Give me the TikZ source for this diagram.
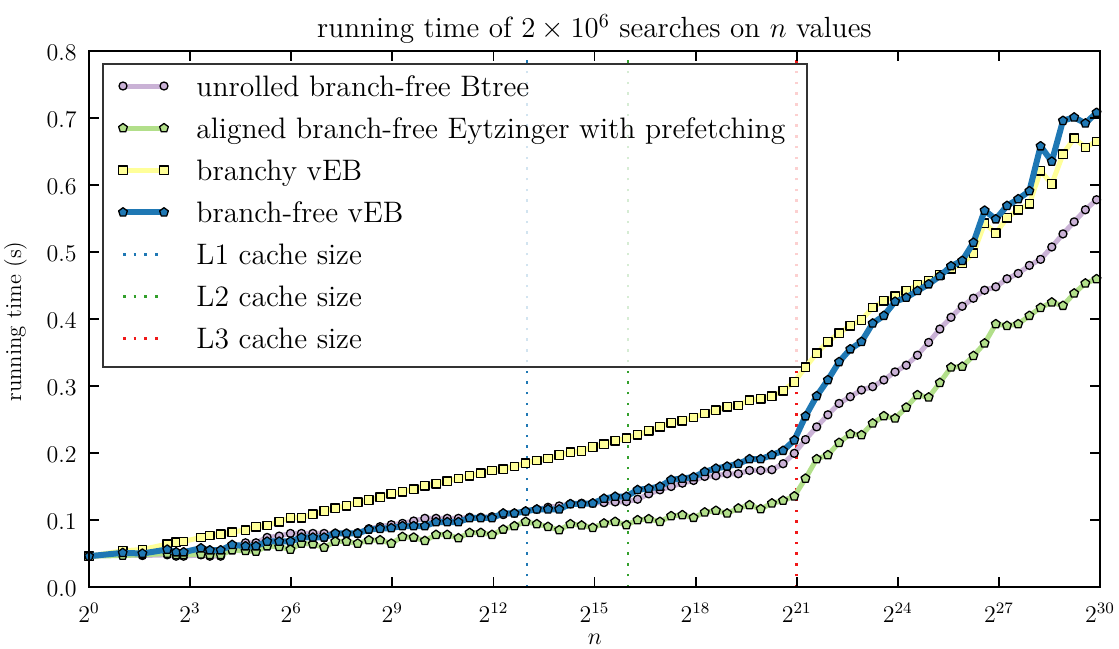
\documentclass[tikz,border=0pt]{standalone}
\usetikzlibrary{plotmarks}
\definecolor{cpur}{HTML}{CAB2D6}
\definecolor{cgrn}{HTML}{B2DF8A}
\definecolor{cyel}{HTML}{FFFF99}
\definecolor{cblu}{HTML}{1F78B4}
\definecolor{cLone}{HTML}{1F78B4}
\definecolor{cLtwo}{HTML}{33A02C}
\definecolor{cLthree}{HTML}{F01818}
\tikzset{
  frame/.style={line width=1.35pt, black},
  tickmark/.style={line width=0.9pt, black},
  purline/.style={cpur, line width=2.5pt, line join=round, mark=*, mark size=2pt, mark options={draw=black, line width=0.65pt, solid, fill=cpur}},
  grnline/.style={cgrn, line width=2.5pt, line join=round, mark=pentagon*, mark size=2.3pt, mark options={draw=black, line width=0.65pt, solid, fill=cgrn}},
  yelline/.style={cyel, line width=2.5pt, line join=round, mark=square*, mark size=2.1pt, mark options={draw=black, line width=0.65pt, solid, fill=cyel}},
  bluline/.style={cblu, line width=3pt, line join=round, mark=pentagon*, mark size=2.3pt, mark options={draw=black, line width=0.65pt, solid, fill=cblu}},
  cacheline/.style={line width=1.25pt, dash pattern=on 1.25pt off 4.1pt},
  ticklab/.style={font=\fontsize{12}{14}\selectfont, inner sep=0pt},
  legtext/.style={font=\fontsize{14.8}{17}\selectfont, inner sep=0pt, anchor=base west},
}
\begin{document}
\begin{tikzpicture}[x=0.5pt,y=-0.5pt]
\useasboundingbox (0,0) rectangle (1119,648);
% cache lines
\draw[cacheline, cLone] (527.1,587) -- (527.1,51);
\draw[cacheline, cLtwo] (628.2,587) -- (628.2,51);
\draw[cacheline, cLthree] (796.7,587) -- (796.7,51);
% legend box
\draw[black!80, line width=1pt, fill=white, fill opacity=0.8] (103,64) rectangle (807,367);
\draw[purline] plot coordinates {(123,86) (164,86)};
\node[legtext] (l1) at (196,96) {unrolled branch-free Btree};
\draw[grnline] plot coordinates {(123,128.1) (164,128.1)};
\node[legtext] (l2) at (196,138.1) {aligned branch-free Eytzinger with prefetching};
\draw[yelline] plot coordinates {(123,170.2) (164,170.2)};
\node[legtext] (l3) at (196,180.2) {branchy vEB};
\draw[bluline] plot coordinates {(123,212.3) (164,212.3)};
\node[legtext] (l4) at (196,222.3) {branch-free vEB};
\draw[cacheline, cLone] (123,254.4) -- (164,254.4);
\node[legtext] (l5) at (196,264.4) {L1 cache size};
\draw[cacheline, cLtwo] (123,296.5) -- (164,296.5);
\node[legtext] (l6) at (196,306.5) {L2 cache size};
\draw[cacheline, cLthree] (123,338.6) -- (164,338.6);
\node[legtext] (l7) at (196,348.6) {L3 cache size};
% data
\begin{scope}[shift={(89,587)}, x=5.5975pt, y=335pt]
\draw[purline] plot coordinates {(0,.046) (3.0103,.048) (4.7712,.047) (6.9897,.048) (7.7815,.046) (8.451,.046) (10,.048) (10.7918,.046) (11.7609,.046) (12.7875,.060) (13.9794,.066) (14.9136,.066) (15.9106,.074) (16.9897,.076) (17.9934,.080) (18.9763,.080) (20,.080) (21,.080) (22,.080) (23,.080) (24,.081) (25,.087) (26,.090) (27,.093) (28,.095) (29,.0985) (30,.1025) (31,.1025) (32,.1025) (33,.1025) (34,.104) (35,.104) (36,.105) (37,.108) (38,.110) (39,.113) (40,.116) (41,.119) (42,.121) (43,.124) (44,.125) (45,.125) (46,.126) (47,.127) (48,.1274) (49,.131) (50,.139) (51,.145) (52,.150) (53,.155) (54,.159) (55,.165) (56,.166) (57,.169) (58,.169) (59,.174) (60,.174) (61,.175) (62,.184) (63,.1995) (64,.220) (65,.239) (66,.257) (67,.274) (68,.284) (69,.294) (70,.299) (71,.309) (72,.321) (73,.331) (74,.346) (75,.365) (76,.385) (77,.4025) (78,.419) (79,.431) (80,.443) (81,.448) (82,.460) (83,.468) (84,.480) (85,.489) (86,.5075) (87,.527) (88,.545) (89,.563) (90,.578)};
\draw[grnline] plot coordinates {(0,.046) (3.0103,.047) (4.7712,.048) (6.9897,.050) (7.7815,.048) (8.451,.048) (10,.049) (10.7918,.048) (11.7609,.048) (12.7875,.055) (13.9794,.054) (14.9136,.053) (15.9106,.061) (16.9897,.060) (17.9934,.056) (18.9763,.065) (20,.064) (21,.059) (22,.068) (23,.068) (24,.065) (25,.070) (26,.070) (27,.065) (28,.075) (29,.074) (30,.069) (31,.078) (32,.078) (33,.073) (34,.081) (35,.081) (36,.078) (37,.086) (38,.091) (39,.0975) (40,.094) (41,.090) (42,.085) (43,.094) (44,.092) (45,.0885) (46,.095) (47,.0975) (48,.0925) (49,.100) (50,.1015) (51,.0975) (52,.106) (53,.1075) (54,.1035) (55,.1115) (56,.114) (57,.110) (58,.1174) (59,.1224) (60,.1164) (61,.125) (62,.129) (63,.1355) (64,.162) (65,.191) (66,.197) (67,.2154) (68,.2284) (69,.2269) (70,.2443) (71,.2552) (72,.2517) (73,.2681) (74,.2866) (75,.2831) (76,.3049) (77,.3279) (78,.329) (79,.345) (80,.3637) (81,.3925) (82,.390) (83,.3925) (84,.405) (85,.4169) (86,.4249) (87,.4199) (88,.4383) (89,.4532) (90,.4597)};
\draw[yelline] plot coordinates {(0,.046) (3.0103,.054) (4.7712,.056) (6.9897,.064) (7.7815,.067) (8.451,.068) (10,.074) (10.7918,.077) (11.7609,.079) (12.7875,.082) (13.9794,.085) (14.9136,.090) (15.9106,.092) (16.9897,.0975) (17.9934,.1035) (18.9763,.1035) (20,.1085) (21,.1134) (22,.1174) (23,.1214) (24,.1264) (25,.1299) (26,.134) (27,.139) (28,.142) (29,.146) (30,.151) (31,.154) (32,.158) (33,.162) (34,.166) (35,.170) (36,.174) (37,.176) (38,.180) (39,.185) (40,.189) (41,.192) (42,.197) (43,.201) (44,.203) (45,.209) (46,.213) (47,.218) (48,.222) (49,.227) (50,.233) (51,.239) (52,.245) (53,.248) (54,.253) (55,.259) (56,.264) (57,.269) (58,.271) (59,.279) (60,.281) (61,.285) (62,.293) (63,.306) (64,.328) (65,.349) (66,.366) (67,.379) (68,.390) (69,.3985) (70,.417) (71,.427) (72,.434) (73,.442) (74,.451) (75,.457) (76,.466) (77,.475) (78,.483) (79,.498) (80,.543) (81,.528) (82,.551) (83,.563) (84,.572) (85,.621) (86,.6015) (87,.646) (88,.670) (89,.656) (90,.665)};
\draw[bluline] plot coordinates {(0,.046) (3.0103,.051) (4.7712,.050) (6.9897,.056) (7.7815,.052) (8.451,.052) (10,.058) (10.7918,.055) (11.7609,.055) (12.7875,.063) (13.9794,.061) (14.9136,.061) (15.9106,.068) (16.9897,.068) (17.9934,.068) (18.9763,.074) (20,.074) (21,.074) (22,.080) (23,.080) (24,.080) (25,.086) (26,.087) (27,.088) (28,.091) (29,.091) (30,.091) (31,.097) (32,.097) (33,.097) (34,.103) (35,.103) (36,.103) (37,.110) (38,.110) (39,.113) (40,.116) (41,.116) (42,.116) (43,.124) (44,.124) (45,.125) (46,.132) (47,.135) (48,.135) (49,.145) (50,.147) (51,.150) (52,.160) (53,.162) (54,.164) (55,.172) (56,.177) (57,.180) (58,.184) (59,.191) (60,.191) (61,.197) (62,.2035) (63,.219) (64,.255) (65,.285) (66,.309) (67,.336) (68,.355) (69,.366) (70,.3935) (71,.405) (72,.426) (73,.432) (74,.442) (75,.452) (76,.464) (77,.479) (78,.487) (79,.514) (80,.562) (81,.549) (82,.569) (83,.579) (84,.591) (85,.658) (86,.635) (87,.696) (88,.701) (89,.692) (90,.708)};
\end{scope}
% axes frame and ticks
\draw[frame] (89,51) rectangle (1100,587);
\foreach \j in {0,...,10} {
  \pgfmathsetmacro\tx{89+101.1*\j}
  \pgfmathtruncatemacro\ex{3*\j}
  \draw[tickmark] (\tx,587) -- ++(0,-10);
  \draw[tickmark] (\tx,51) -- ++(0,10);
  \node[ticklab, anchor=base] (xt\j) at (\tx,622) {$2^{\ex}$};
}
\foreach \i/\lab in {0/0.0,1/0.1,2/0.2,3/0.3,4/0.4,5/0.5,6/0.6,7/0.7,8/0.8} {
  \pgfmathsetmacro\ty{587-67*\i}
  \draw[tickmark] (89,\ty) -- ++(10,0);
  \draw[tickmark] (1100,\ty) -- ++(-10,0);
  \node[ticklab, anchor=base east] (yt\i) at (77,\ty+9.5) {\lab};
}
\node[ticklab, anchor=base] (xlab) at (595,644.5) {$n$};
\node[font=\fontsize{11.4}{13}\selectfont, inner sep=0pt, anchor=base, rotate=90] (ylab) at (21,321.5) {running time (s)};
\node[font=\fontsize{14.6}{17}\selectfont, inner sep=0pt, anchor=base] (title) at (594.5,37.7) {running time of $2\times10^6$ searches on $n$ values};
\end{tikzpicture}
\end{document}
